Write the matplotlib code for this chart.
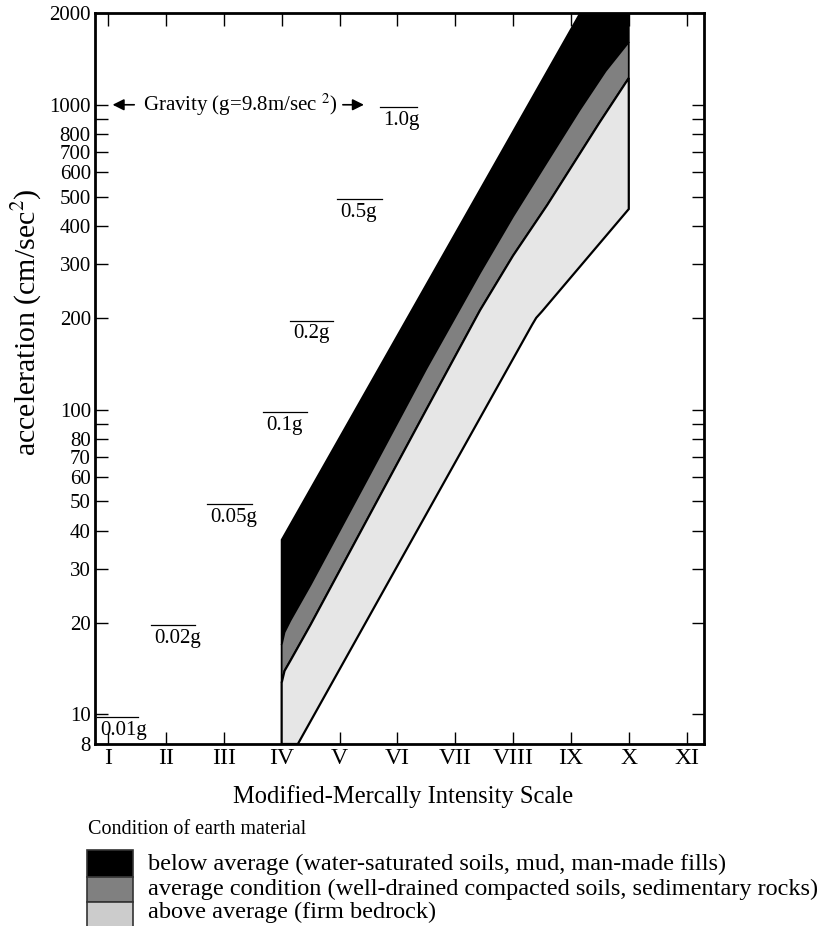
import numpy as np
import matplotlib
matplotlib.use("Agg")
import matplotlib.pyplot as plt
from matplotlib.patches import Rectangle

plt.rcParams["font.family"] = ["Liberation Serif", "DejaVu Serif"]
plt.rcParams["mathtext.fontset"] = "stix"

# intensity axis (Modified Mercalli), 1..11
mmi_pos = list(range(1, 12))
mmi_labels = ["I", "II", "III", "IV", "V", "VI", "VII", "VIII", "IX", "X", "XI"]

# y ticks (cm/sec^2); 90 and 900 are unlabeled
y_ticks = [8, 10, 20, 30, 40, 50, 60, 70, 80, 90, 100, 200, 300, 400, 500,
           600, 700, 800, 900, 1000, 2000]
y_ticklabels = [str(v) if v not in (90, 900) else "" for v in y_ticks]

# band boundaries (x = MMI, y = cm/sec^2)
black_top_x = [4.0, 9.16]
black_top_y = [37.4, 2000]

# black / grey boundary
mid_x = [4.0, 4.05, 4.15, 4.5, 5.5, 6.5, 7.43, 8.0, 8.59, 9.15, 9.6, 10.0]
mid_y = [16.9, 18.6, 20.3, 26.6, 60, 136, 281, 430, 650, 960, 1290, 1606]

# grey / light boundary
light_top_x = [4.0, 4.05, 4.15, 4.5, 5.5, 6.5, 7.43, 8.0, 8.59, 9.5, 10.0]
light_top_y = [12.7, 13.9, 15.0, 19.7, 44.4, 100, 212, 320, 469, 878, 1224]

# lower edge of the light band
light_bot_x = [4.0, 4.28, 8.33, 8.40, 8.50, 10.0]
light_bot_y = [8, 8, 190, 200, 210, 455]

# fractions of g marked on the chart
g_labels = ["1.0g", "0.5g", "0.2g", "0.1g", "0.05g", "0.02g", "0.01g"]
g_values = [980, 490, 196, 98, 49, 19.6, 9.8]
g_x0 = [5.70, 4.96, 4.14, 3.68, 2.71, 1.74, 0.81]
g_x1 = [6.34, 5.73, 4.89, 4.44, 3.49, 2.50, 1.52]

legend_labels = ["below average (water-saturated soils, mud, man-made fills)",
                 "average condition (well-drained compacted soils, sedimentary rocks)",
                 "above average (firm bedrock)"]
band_colors = ["#000000", "#808080", "#e6e6e6"]
legend_colors = ["#000000", "#808080", "#cccccc"]

W, H = 826, 926
fig = plt.figure(figsize=(W / 100, H / 100), dpi=100)
ax = fig.add_axes([95 / W, 1 - 744 / H, (704 - 95) / W, (744 - 13) / H])
ax.set_yscale("log")
ax.set_xlim(0.774, 11.30)
ax.set_ylim(8, 2000)

# black band: top line, along the top axis, right edge, back along the middle boundary
bx = black_top_x + [10.0] + mid_x[::-1]
by = black_top_y + [2000] + mid_y[::-1]
ax.fill(bx, by, color=band_colors[0], ec="black", lw=1.3, zorder=2)

gx = mid_x + light_top_x[::-1]
gy = mid_y + light_top_y[::-1]
ax.fill(gx, gy, color=band_colors[1], ec="black", lw=1.3, zorder=3)

lx = light_top_x + light_bot_x[::-1]
ly = light_top_y + light_bot_y[::-1]
ax.fill(lx, ly, color=band_colors[2], ec="black", lw=1.6, zorder=4)

# g markers: overline + label
for lab, gv, x0, x1 in zip(g_labels, g_values, g_x0, g_x1):
    ax.plot([x0, x1], [gv, gv], color="black", lw=0.9, zorder=5)
    ax.annotate(lab, xy=(x0, gv), xytext=(2.5, -2.5), textcoords="offset points",
                ha="left", va="top", fontsize=15)

# gravity annotation
ax.text(3.28, 1000, "Gravity (g=9.8m/sec $^2$)", ha="center", va="center", fontsize=15)
arrow = dict(arrowstyle="-|>", color="black", lw=1.2, mutation_scale=17)
ax.annotate("", xy=(1.03, 1000), xytext=(1.50, 1000), arrowprops=arrow)
ax.annotate("", xy=(5.47, 1000), xytext=(5.01, 1000), arrowprops=arrow)

ax.set_xticks(mmi_pos)
ax.set_xticklabels(mmi_labels, fontsize=17)
ax.set_yticks(y_ticks)
ax.set_yticklabels(y_ticklabels, fontsize=15)
ax.yaxis.set_minor_locator(matplotlib.ticker.NullLocator())
ax.tick_params(direction="in", length=9, width=1, top=True, right=True)
ax.tick_params(axis="y", pad=3)
ax.tick_params(axis="x", pad=3)
for sp in ax.spines.values():
    sp.set_linewidth(2)
    sp.set_zorder(6)

fig.text(403 / W, 1 - 797 / H, "Modified-Mercally Intensity Scale",
         ha="center", va="center", fontsize=17.7)
fig.text(27 / W, 1 - 322 / H, "acceleration (cm/sec$^2$)", rotation=90,
         ha="center", va="center", fontsize=21.5)

# legend drawn by hand below the axes
fig.text(88 / W, 1 - 830 / H, "Condition of earth material",
         ha="left", va="center", fontsize=14.5)
box_tops = [850, 877, 902]
box_h = [27, 25, 26]
text_y = [864, 889, 912]
for c, lab, top, h, ty in zip(legend_colors, legend_labels, box_tops, box_h, text_y):
    fig.add_artist(Rectangle((87 / W, 1 - (top + h) / H), 46 / W, h / H,
                             transform=fig.transFigure, fc=c, ec="#333333", lw=1.2))
    fig.text(148 / W, 1 - ty / H, lab, ha="left", va="center", fontsize=17.5)

fig.savefig("out.png", dpi=100)
